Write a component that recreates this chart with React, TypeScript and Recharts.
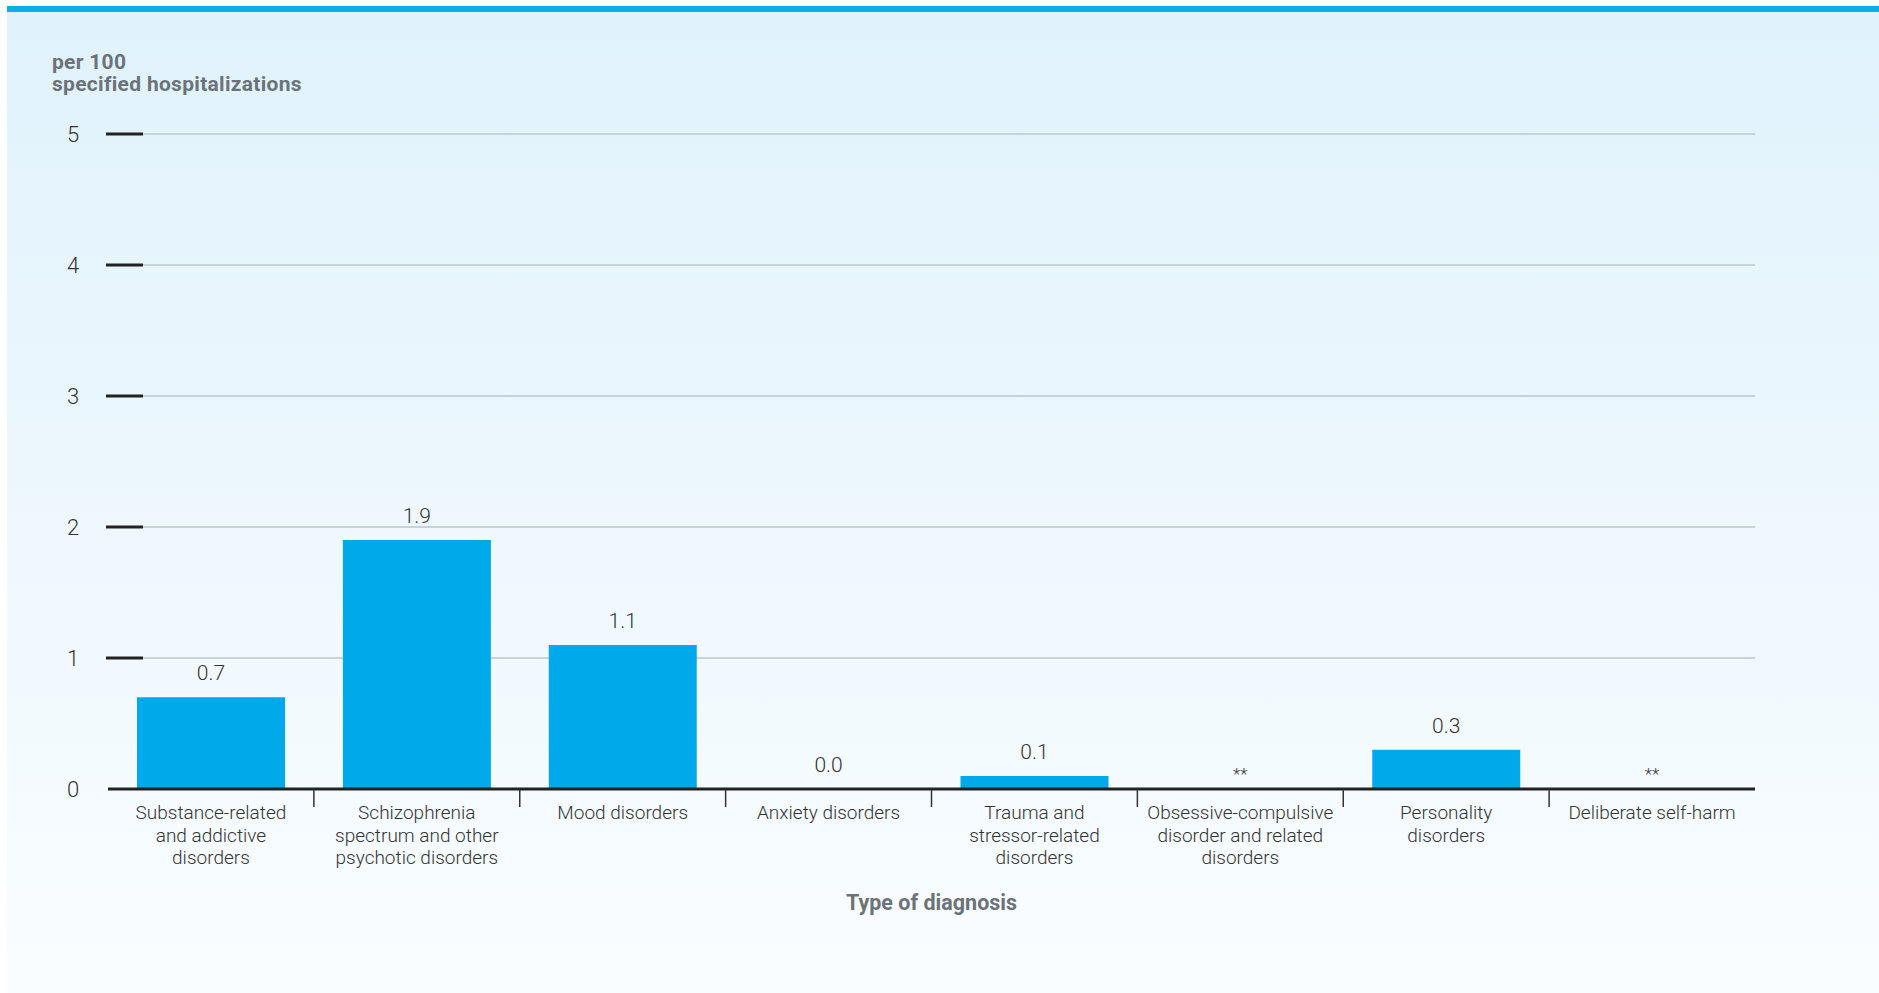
import React from "react";
import { ComposedChart, Bar, Line, XAxis, YAxis, CartesianGrid, LabelList } from "recharts";

// categories, one entry per bar (label split into its printed lines)
const categoryNames = [
  "Substance-related and addictive disorders",
  "Schizophrenia spectrum and other psychotic disorders",
  "Mood disorders",
  "Anxiety disorders",
  "Trauma and stressor-related disorders",
  "Obsessive-compulsive disorder and related disorders",
  "Personality disorders",
  "Deliberate self-harm",
];
const categoryLines = [
  ["Substance-related", "and addictive", "disorders"],
  ["Schizophrenia", "spectrum and other", "psychotic disorders"],
  ["Mood disorders"],
  ["Anxiety disorders"],
  ["Trauma and", "stressor-related", "disorders"],
  ["Obsessive-compulsive", "disorder and related", "disorders"],
  ["Personality", "disorders"],
  ["Deliberate self-harm"],
];
// per 100 specified hospitalizations; null = suppressed (**)
const rates = [0.7, 1.9, 1.1, 0.0, 0.1, null, 0.3, null];
const rateLabels = ["0.7", "1.9", "1.1", "0.0", "0.1", "**", "0.3", "**"];
const yTicks = [0, 1, 2, 3, 4, 5];

const W = 1879;
const H = 993;
const margin = { top: 134, right: 124, left: 0, bottom: 74 };
const yAxisWidth = 108;
const band = (W - yAxisWidth - margin.right - margin.left) / categoryNames.length;

const font = "Roboto, 'Open Sans', sans-serif";
const textColor = "#333333";
const titleColor = "#6b7279";

// labelAt: where each value label sits (bar top, or the baseline for suppressed values)
const data = categoryNames.map((name, i) => ({ name, rate: rates[i], labelAt: rates[i] ?? 0 }));

const YTick = (props: any) => {
  const { x, y, payload } = props;
  return (
    <g>
      {payload.value !== 0 && (
        <line x1={x - 2} x2={x + 35} y1={y} y2={y} stroke="#222" strokeWidth={3} />
      )}
      <text x={x - 35} y={y} dy={8} textAnchor="middle" fontSize={22} fontWeight={300} fill={textColor} fontFamily={font}>
        {payload.value}
      </text>
    </g>
  );
};

const XTick = (props: any) => {
  const { x, y, index } = props;
  const lines = categoryLines[index] || [];
  return (
    <g>
      {index > 0 && (
        <line x1={x - band / 2} x2={x - band / 2} y1={y} y2={y + 18} stroke="#333" strokeWidth={1.5} />
      )}
      <text x={x} y={y} textAnchor="middle" fontSize={19} fontWeight={300} fill={textColor} fontFamily={font}>
        {lines.map((l, i) => (
          <tspan key={i} x={x} dy={i === 0 ? 30 : 22.5}>
            {l}
          </tspan>
        ))}
      </text>
    </g>
  );
};

const ValueLabel = (props: any) => {
  const { x, y, index } = props;
  const suppressed = rates[index] == null;
  return (
    <text
      x={x}
      y={y - (suppressed ? 9 : 17)}
      textAnchor="middle"
      fontSize={suppressed ? 17 : 21}
      fontWeight={300}
      fill={textColor}
      fontFamily={font}
    >
      {rateLabels[index]}
    </text>
  );
};

const AxisTitle = (props: any) => {
  const { viewBox } = props;
  return (
    <text
      x={viewBox.x + viewBox.width / 2}
      y={viewBox.y + 121}
      textAnchor="middle"
      fontSize={21.5}
      fontWeight={700}
      fill={titleColor}
      fontFamily={font}
    >
      Type of diagnosis
    </text>
  );
};

export default function App() {
  return (
    <div style={{ position: "absolute", left: 0, top: 0, width: W, height: H, background: "#fff", overflow: "hidden" }}>
      <div
        style={{
          position: "absolute",
          left: 7,
          top: 6,
          right: 0,
          bottom: 0,
          borderTop: "6px solid #0aaee8",
          background: "linear-gradient(#e0f2fc, #fafdff)",
        }}
      />
      <div
        style={{
          position: "absolute",
          left: 52,
          top: 51,
          fontFamily: font,
          fontWeight: 700,
          fontSize: 21,
          lineHeight: "22px",
          letterSpacing: 0.3,
          color: titleColor,
        }}
      >
        per 100
        <br />
        specified hospitalizations
      </div>
      <div style={{ position: "absolute", left: 0, top: 0 }}>
        <ComposedChart width={W} height={H} data={data} margin={margin}>
          <CartesianGrid vertical={false} stroke="#c6d3da" strokeWidth={2} />
          <XAxis
            dataKey="name"
            interval={0}
            height={130}
            tickSize={0}
            tickMargin={0}
            tickLine={false}
            axisLine={{ stroke: "#222", strokeWidth: 3 }}
            tick={<XTick />}
            label={<AxisTitle />}
          />
          <YAxis
            width={yAxisWidth}
            domain={[0, 5]}
            ticks={yTicks}
            interval={0}
            tickSize={0}
            tickMargin={0}
            tickLine={false}
            axisLine={false}
            tick={<YTick />}
          />
          <Bar dataKey="rate" fill="#00aaea" barSize={148} isAnimationActive={false} />
          <Line
            dataKey="labelAt"
            stroke="none"
            dot={false}
            activeDot={false}
            legendType="none"
            isAnimationActive={false}
          >
            <LabelList dataKey="labelAt" content={<ValueLabel />} />
          </Line>
        </ComposedChart>
      </div>
    </div>
  );
}
